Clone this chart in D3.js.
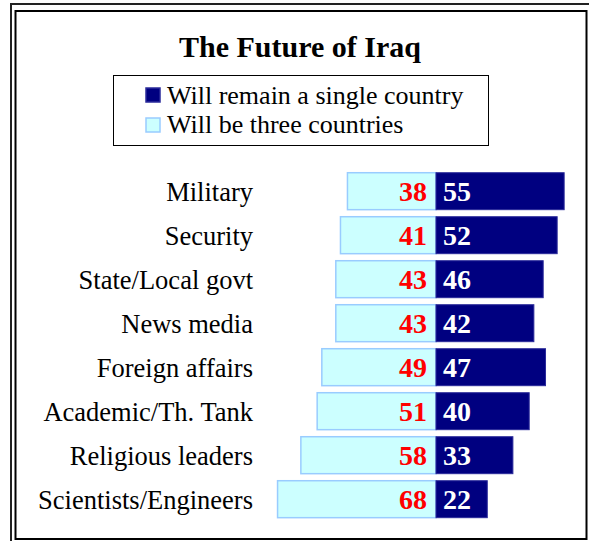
<!DOCTYPE html>
<meta charset="utf-8">
<style>
    body { margin: 0; background: #fff; }
    text { font-family: "Liberation Serif", "Times New Roman", serif; }
    .cat { font-size: 26.5px; fill: #000; text-anchor: end; }
    .num { font-size: 28px; font-weight: bold; }
</style>
<body>
<svg width="589" height="541"></svg>
<script src="https://d3js.org/d3.v7.min.js"></script>
<script>

    var categories = ["Military", "Security", "State/Local govt", "News media",
        "Foreign affairs", "Academic/Th. Tank", "Religious leaders", "Scientists/Engineers"];
    var threeCountries = [38, 41, 43, 43, 49, 51, 58, 68];
    var singleCountry = [55, 52, 46, 42, 47, 40, 33, 22];
    var seriesNames = ["Will remain a single country", "Will be three countries"];

    var svg = d3.select("svg");

    // double frame
    svg.append("rect")
        .attr("x", 11).attr("y", 4)
        .attr("width", 600).attr("height", 560)
        .attr("fill", "none").attr("stroke", "#222").attr("stroke-width", 2);
    svg.append("rect")
        .attr("x", 15.5).attr("y", 11)
        .attr("width", 571).attr("height", 528)
        .attr("fill", "none").attr("stroke", "#000").attr("stroke-width", 2);

    svg.append("text")
        .attr("x", 300).attr("y", 57)
        .attr("text-anchor", "middle")
        .style("font-size", "30px").style("font-weight", "bold")
        .text("The Future of Iraq");

    // legend
    var legend = svg.append("g");
    legend.append("rect")
        .attr("x", 113.5).attr("y", 75.5)
        .attr("width", 375).attr("height", 70)
        .attr("fill", "#fff").attr("stroke", "#000").attr("stroke-width", 1);

    var legendColors = [["#000080", "#2a2a9a"], ["#ccffff", "#99ccff"]];
    seriesNames.forEach(function (name, i) {
        legend.append("rect")
            .attr("x", 146).attr("y", 88 + i * 30)
            .attr("width", 14).attr("height", 14)
            .attr("fill", legendColors[i][0])
            .attr("stroke", legendColors[i][1]).attr("stroke-width", 1.5);
        legend.append("text")
            .attr("x", 167).attr("y", 104 + i * 29)
            .style("font-size", "26px")
            .text(name);
    });

    var x = d3.scaleLinear().domain([-70, 60]).range([436 - 70 * 2.33, 436 + 60 * 2.33]);
    var y = d3.scaleBand().domain(categories)
        .range([169.2, 521.2]).paddingInner(0.16).paddingOuter(0.08);

    var rows = svg.append("g").selectAll("g")
        .data(categories)
        .enter().append("g");

    rows.append("text")
        .attr("class", "cat")
        .attr("x", 253)
        .attr("y", function (d) { return y(d) + y.bandwidth() / 2 + 9.5; })
        .text(function (d) { return d; });

    rows.append("rect")
        .attr("x", function (d, i) { return x(-threeCountries[i]); })
        .attr("y", function (d) { return y(d); })
        .attr("width", function (d, i) { return x(0) - x(-threeCountries[i]); })
        .attr("height", y.bandwidth())
        .attr("fill", "#ccffff").attr("stroke", "#99ccff").attr("stroke-width", 1.5);

    rows.append("rect")
        .attr("x", x(0))
        .attr("y", function (d) { return y(d); })
        .attr("width", function (d, i) { return x(singleCountry[i]) - x(0); })
        .attr("height", y.bandwidth())
        .attr("fill", "#000080").attr("stroke", "#2a2a9a").attr("stroke-width", 1);

    rows.append("text")
        .attr("class", "num")
        .attr("x", x(0) - 9)
        .attr("y", function (d) { return y(d) + y.bandwidth() / 2 + 10; })
        .attr("text-anchor", "end")
        .attr("fill", "#ff0000")
        .text(function (d, i) { return threeCountries[i]; });

    rows.append("text")
        .attr("class", "num")
        .attr("x", x(0) + 7)
        .attr("y", function (d) { return y(d) + y.bandwidth() / 2 + 10; })
        .attr("fill", "#fff")
        .text(function (d, i) { return singleCountry[i]; });

</script>
</body>
